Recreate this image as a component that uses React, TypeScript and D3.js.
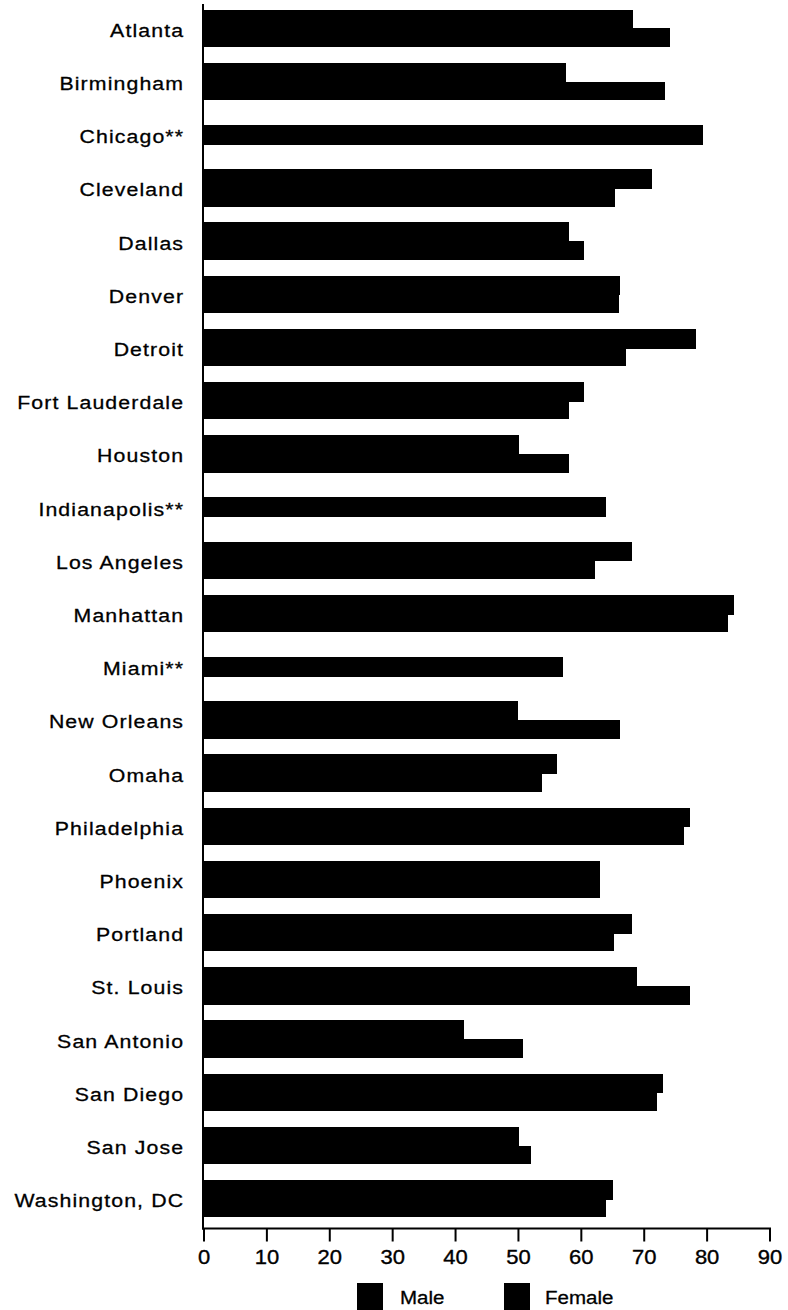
import React from "react";
import * as d3 from "d3";

const cities = [
  "Atlanta", "Birmingham", "Chicago**", "Cleveland", "Dallas", "Denver", "Detroit",
  "Fort Lauderdale", "Houston", "Indianapolis**", "Los Angeles", "Manhattan", "Miami**",
  "New Orleans", "Omaha", "Philadelphia", "Phoenix", "Portland", "St. Louis",
  "San Antonio", "San Diego", "San Jose", "Washington, DC",
];
const male: (number | null)[] = [
  68.2, 57.5, null, 71.3, 58.1, 66.2, 78.3, 60.4, 50.1, null, 68.0, 84.2, null,
  50.0, 56.2, 77.2, 63.0, 68.0, 68.9, 41.3, 73.0, 50.1, 65.1,
];
const female: (number | null)[] = [
  74.1, 73.3, null, 65.4, 60.4, 66.0, 67.1, 58.1, 58.1, null, 62.1, 83.3, null,
  66.1, 53.7, 76.3, 63.0, 65.2, 77.2, 50.8, 72.1, 52.0, 63.9,
];
const combined: (number | null)[] = [
  null, null, 79.3, null, null, null, null, null, null, 64.0, null, null, 57.1,
  null, null, null, null, null, null, null, null, null, null,
];
const series = ["Male", "Female"];
const xTicks = [0, 10, 20, 30, 40, 50, 60, 70, 80, 90];

const W = 788;
const H = 1310;
const FONT = "'Liberation Sans', Arial, Helvetica, sans-serif";

export default function App() {
  const x = d3.scaleLinear().domain([0, 90]).range([204, 770]);
  const y = d3
    .scaleBand<string>()
    .domain(cities)
    .range([1.7, 1225.3])
    .paddingInner(0.3)
    .paddingOuter(0.15);
  const sub = d3.scaleBand<string>().domain(series).range([0, y.bandwidth()]);
  const axisY = 1228.5;

  return (
    <svg
      width={W}
      height={H}
      viewBox={`0 0 ${W} ${H}`}
      style={{ position: "absolute", left: 0, top: 0, background: "#fff" }}
      fontFamily={FONT}
    >
      <rect x={0} y={0} width={W} height={H} fill="#fff" />
      {/* bars */}
      {cities.map((c, i) => {
        const y0 = y(c)!;
        const bw = y.bandwidth();
        const items: React.ReactNode[] = [];
        if (combined[i] != null) {
          const h = bw / 2 + 1;
          items.push(
            <rect
              key="c"
              x={x(0)}
              y={y0 + bw / 2 - h / 2}
              width={x(combined[i] as number) - x(0)}
              height={h}
              fill="#000"
              shapeRendering="crispEdges"
            />
          );
        } else {
          const vals = [male[i], female[i]];
          series.forEach((s, k) => {
            const v = vals[k];
            if (v == null) return;
            items.push(
              <rect
                key={s}
                x={x(0)}
                y={y0 + sub(s)!}
                width={x(v) - x(0)}
                height={sub.bandwidth() + (k === 0 ? 1 : 0)}
                fill="#000"
                shapeRendering="crispEdges"
              />
            );
          });
        }
        return <g key={c}>{items}</g>;
      })}

      {/* category labels */}
      {cities.map((c) => (
        <text
          key={"l" + c}
          transform={`translate(183,${y(c)! + y.bandwidth() / 2 + 2}) scale(1.12,1)`}
          x={1}
          y={0}
          textAnchor="end"
          dominantBaseline="central"
          fontSize={19}
          letterSpacing={1}
          fill="#000"
          stroke="#000"
          strokeWidth={0.3}
        >
          {c}
        </text>
      ))}

      {/* y axis line */}
      <line x1={x(0) - 1} x2={x(0) - 1} y1={4} y2={axisY + 1} stroke="#000" strokeWidth={2} />

      {/* x axis */}
      <line x1={x(0) - 2} x2={x(90) + 1} y1={axisY} y2={axisY} stroke="#000" strokeWidth={2} />
      {xTicks.map((t) => (
        <g key={"t" + t}>
          <line x1={x(t)} x2={x(t)} y1={axisY} y2={axisY + 13} stroke="#000" strokeWidth={2} />
          <text
            transform={`translate(${x(t)},1264) scale(1.1,1)`}
            textAnchor="middle"
            fontSize={20}
            fill="#000"
            stroke="#000"
            strokeWidth={0.35}
          >
            {t}
          </text>
        </g>
      ))}

      {/* legend */}
      {series.map((s, k) => {
        const lx = k === 0 ? 357 : 504;
        return (
          <g key={"lg" + s}>
            <rect x={lx} y={1283} width={26} height={28} fill="#000" />
            <text
              transform={`translate(${lx + (k === 0 ? 43 : 41)},1304) scale(1.08,1)`}
              fontSize={19}
              fill="#000"
              stroke="#000"
              strokeWidth={0.3}
            >
              {s}
            </text>
          </g>
        );
      })}
    </svg>
  );
}
